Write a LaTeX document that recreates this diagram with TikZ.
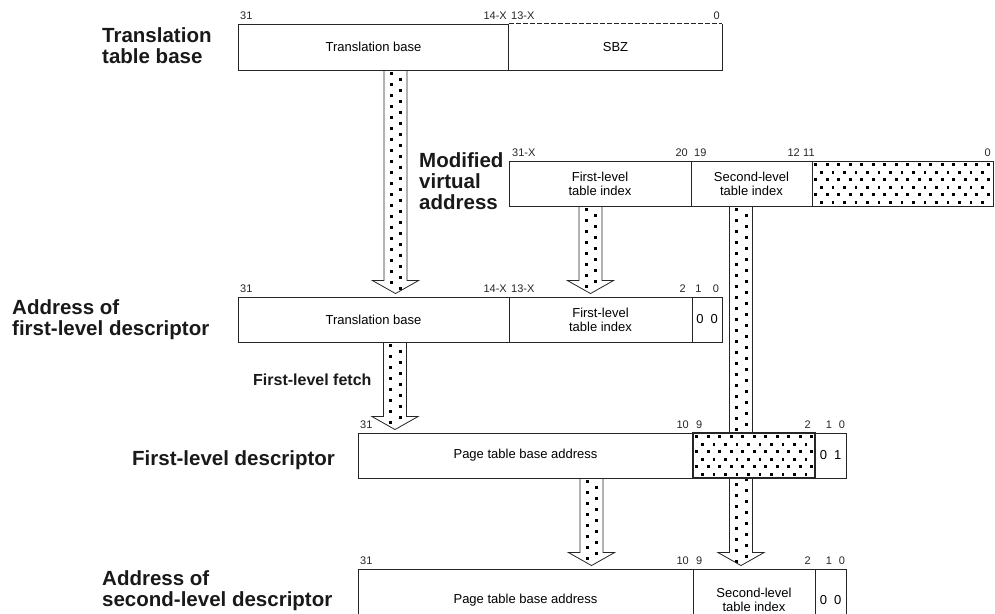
\documentclass[tikz,border=0pt]{standalone}
\usepackage{fontspec}
\setmainfont{Liberation Sans}
\usetikzlibrary{calc}
\pgfdeclarelayer{bg}
\pgfsetlayers{bg,main}
\tikzset{
  cell/.style={draw=black!85, line width=0.9pt, fill=white, inner sep=0pt, align=center,
    font=\fontsize{13}{14}\selectfont},
  boxline/.style={draw=black!85, line width=0.9pt},
  bitlbl/.style={inner sep=0pt, font=\fontsize{11}{11}\selectfont, text=black!85},
  biglbl/.style={inner sep=0pt, align=left, anchor=base west,
    font=\fontsize{20.5}{21}\selectfont\bfseries, text=black!90},
  midlbl/.style={inner sep=0pt, anchor=base west,
    font=\fontsize{16}{16}\selectfont\bfseries, text=black!90},
  dotfill/.style={path picture={
    \foreach \r in {0,...,6}{
      \pgfmathsetmacro\off{mod(\r,2)*5.75}
      \foreach \c in {0,...,16}{
        \fill[black] ([shift={(\c*11.5+\off+2.3,\r*7.5+2.3)}]path picture bounding box.north west)
          rectangle ++(2.8,2.8);
      }}}},
  arrdots/.style={path picture={
    \foreach \k in {0,...,36}{
      \fill[black] ([shift={(-5.9,\k*11+2)}]path picture bounding box.north) rectangle ++(2.9,2.9);
      \fill[black] ([shift={(3.6,\k*11+7.5)}]path picture bounding box.north) rectangle ++(2.9,2.9);
    }}},
  blk/.style={draw=black!85, line width=0.8pt, fill=white, line join=miter, arrdots},
}
\newcommand\blkarrow[3]{%
  \draw[blk] ($(#1 |- #2)+(-11.5,0)$) -- ($(#1 |- #3)+(-11.5,-16)$) -- ($(#1 |- #3)+(-23,-16)$)
    -- ($(#1 |- #3)+(0,-3)$) -- ($(#1 |- #3)+(23,-16)$) -- ($(#1 |- #3)+(11.5,-16)$)
    -- ($(#1 |- #2)+(11.5,0)$);}
\begin{document}
\begin{tikzpicture}[x=1pt,y=-1pt]
\useasboundingbox (0,0) rectangle (995,613);
\clip (0,0) rectangle (995,613);

% ---------- big labels (anchor = baseline of last line)
\node[biglbl] (lttb) at (102,63) {Translation\\table base};
\node[biglbl] (lmva) at (419,209) {Modified\\virtual\\address};
\node[biglbl] (lafl) at (12,335) {Address of\\first-level descriptor};
\node[biglbl] (lfld) at (132,465) {First-level descriptor};
\node[biglbl] (lasl) at (102,606) {Address of\\second-level descriptor};
\node[midlbl] (lfetch) at (253,385) {First-level fetch};

% ---------- translation table base
\node[cell, minimum width=271, minimum height=46] (tb1) at (373.5,47) {Translation base};
\node[cell, draw=none, minimum width=213, minimum height=46] (sbz) at (615.5,47) {\raisebox{-3pt}{SBZ}};
\draw[boxline] (sbz.north west) -- (sbz.south west) -- (sbz.south east) -- (sbz.north east);
\draw[boxline, dash pattern=on 5pt off 2pt] (sbz.north west) -- (sbz.north east);
\node[bitlbl, anchor=base west] (b1a) at (240,19.5) {31};
\node[bitlbl, anchor=base east] (b1b) at (507,19.5) {14-X};
\node[bitlbl, anchor=base west] (b1c) at (511,19.5) {13-X};
\node[bitlbl, anchor=base east] (b1d) at (720,19.5) {0};

% ---------- modified virtual address
\node[cell, minimum width=182, minimum height=45] (mva1) at (600,183.5) {First-level\\table index};
\node[cell, minimum width=121, minimum height=45] (mva2) at (751.5,183.5) {Second-level\\table index};
\node[cell, dotfill, minimum width=181, minimum height=45] (mva3) at (902.5,183.5) {};
\node[bitlbl, anchor=base west] (b2a) at (512,156.5) {31-X};
\node[bitlbl, anchor=base east] (b2b) at (688,156.5) {20};
\node[bitlbl, anchor=base west] (b2c) at (694,156.5) {19};
\node[bitlbl, anchor=base east] (b2d) at (800,156.5) {12};
\node[bitlbl, anchor=base west] (b2e) at (803,156.5) {11};
\node[bitlbl, anchor=base east] (b2f) at (991,156.5) {0};

% ---------- address of first-level descriptor
\node[cell, minimum width=271, minimum height=45] (tb2) at (373.5,319.5) {Translation base};
\node[cell, minimum width=183, minimum height=45] (fli2) at (600.5,319.5) {First-level\\table index};
\node[cell, minimum width=30, minimum height=45] (zz2) at (707,319.5) {\raisebox{-2pt}{0\hspace{7pt}0}};
\node[bitlbl, anchor=base west] (b3a) at (240,292.5) {31};
\node[bitlbl, anchor=base east] (b3b) at (507,292.5) {14-X};
\node[bitlbl, anchor=base west] (b3c) at (511,292.5) {13-X};
\node[bitlbl, anchor=base east] (b3d) at (686,292.5) {2};
\node[bitlbl, anchor=base] (b3e) at (698.5,292.5) {1};
\node[bitlbl, anchor=base] (b3f) at (716,292.5) {0};

% ---------- first-level descriptor
\node[cell, minimum width=335, minimum height=45] (ptb3) at (525.5,455.5) {Page table base address};
\node[cell, dotfill, line width=1.3pt, minimum width=122, minimum height=45] (dot3) at (754,455.5) {};
\node[cell, minimum width=31, minimum height=45] (zo3) at (830.5,455.5) {0\hspace{7pt}1};
\node[bitlbl, anchor=base west] (b4a) at (360,428.5) {31};
\node[bitlbl, anchor=base east] (b4b) at (689,428.5) {10};
\node[bitlbl, anchor=base west] (b4c) at (696,428.5) {9};
\node[bitlbl, anchor=base east] (b4d) at (811,428.5) {2};
\node[bitlbl, anchor=base] (b4e) at (829,428.5) {1};
\node[bitlbl, anchor=base] (b4f) at (842,428.5) {0};

% ---------- address of second-level descriptor
\node[cell, minimum width=335, minimum height=62] (ptb4) at (525.5,600) {Page table base address};
\node[cell, minimum width=122, minimum height=62, font=\fontsize{13}{13.5}\selectfont] (sli4) at (754,600) {Second-level\\table index};
\node[cell, minimum width=31, minimum height=62] (zz4) at (830.5,600) {0\hspace{7pt}0};
\node[bitlbl, anchor=base west] (b5a) at (360,564.5) {31};
\node[bitlbl, anchor=base east] (b5b) at (689,564.5) {10};
\node[bitlbl, anchor=base west] (b5c) at (696,564.5) {9};
\node[bitlbl, anchor=base east] (b5d) at (811,564.5) {2};
\node[bitlbl, anchor=base] (b5e) at (829,564.5) {1};
\node[bitlbl, anchor=base] (b5f) at (842,564.5) {0};

% ---------- block arrows (behind boxes)
\coordinate (xa) at (395.5,0);
\coordinate (xb) at (590.5,0);
\coordinate (xc) at (395,0);
\coordinate (xd) at (591.5,0);
\coordinate (xe) at (741,0);
\begin{pgfonlayer}{bg}
\blkarrow{xa}{tb1.south}{tb2.north}
\blkarrow{xb}{mva1.south}{fli2.north}
\blkarrow{xc}{tb2.south}{ptb3.north}
\blkarrow{xd}{ptb3.south}{ptb4.north}
\blkarrow{xe}{mva2.south}{sli4.north}
\end{pgfonlayer}
\end{tikzpicture}
\end{document}
